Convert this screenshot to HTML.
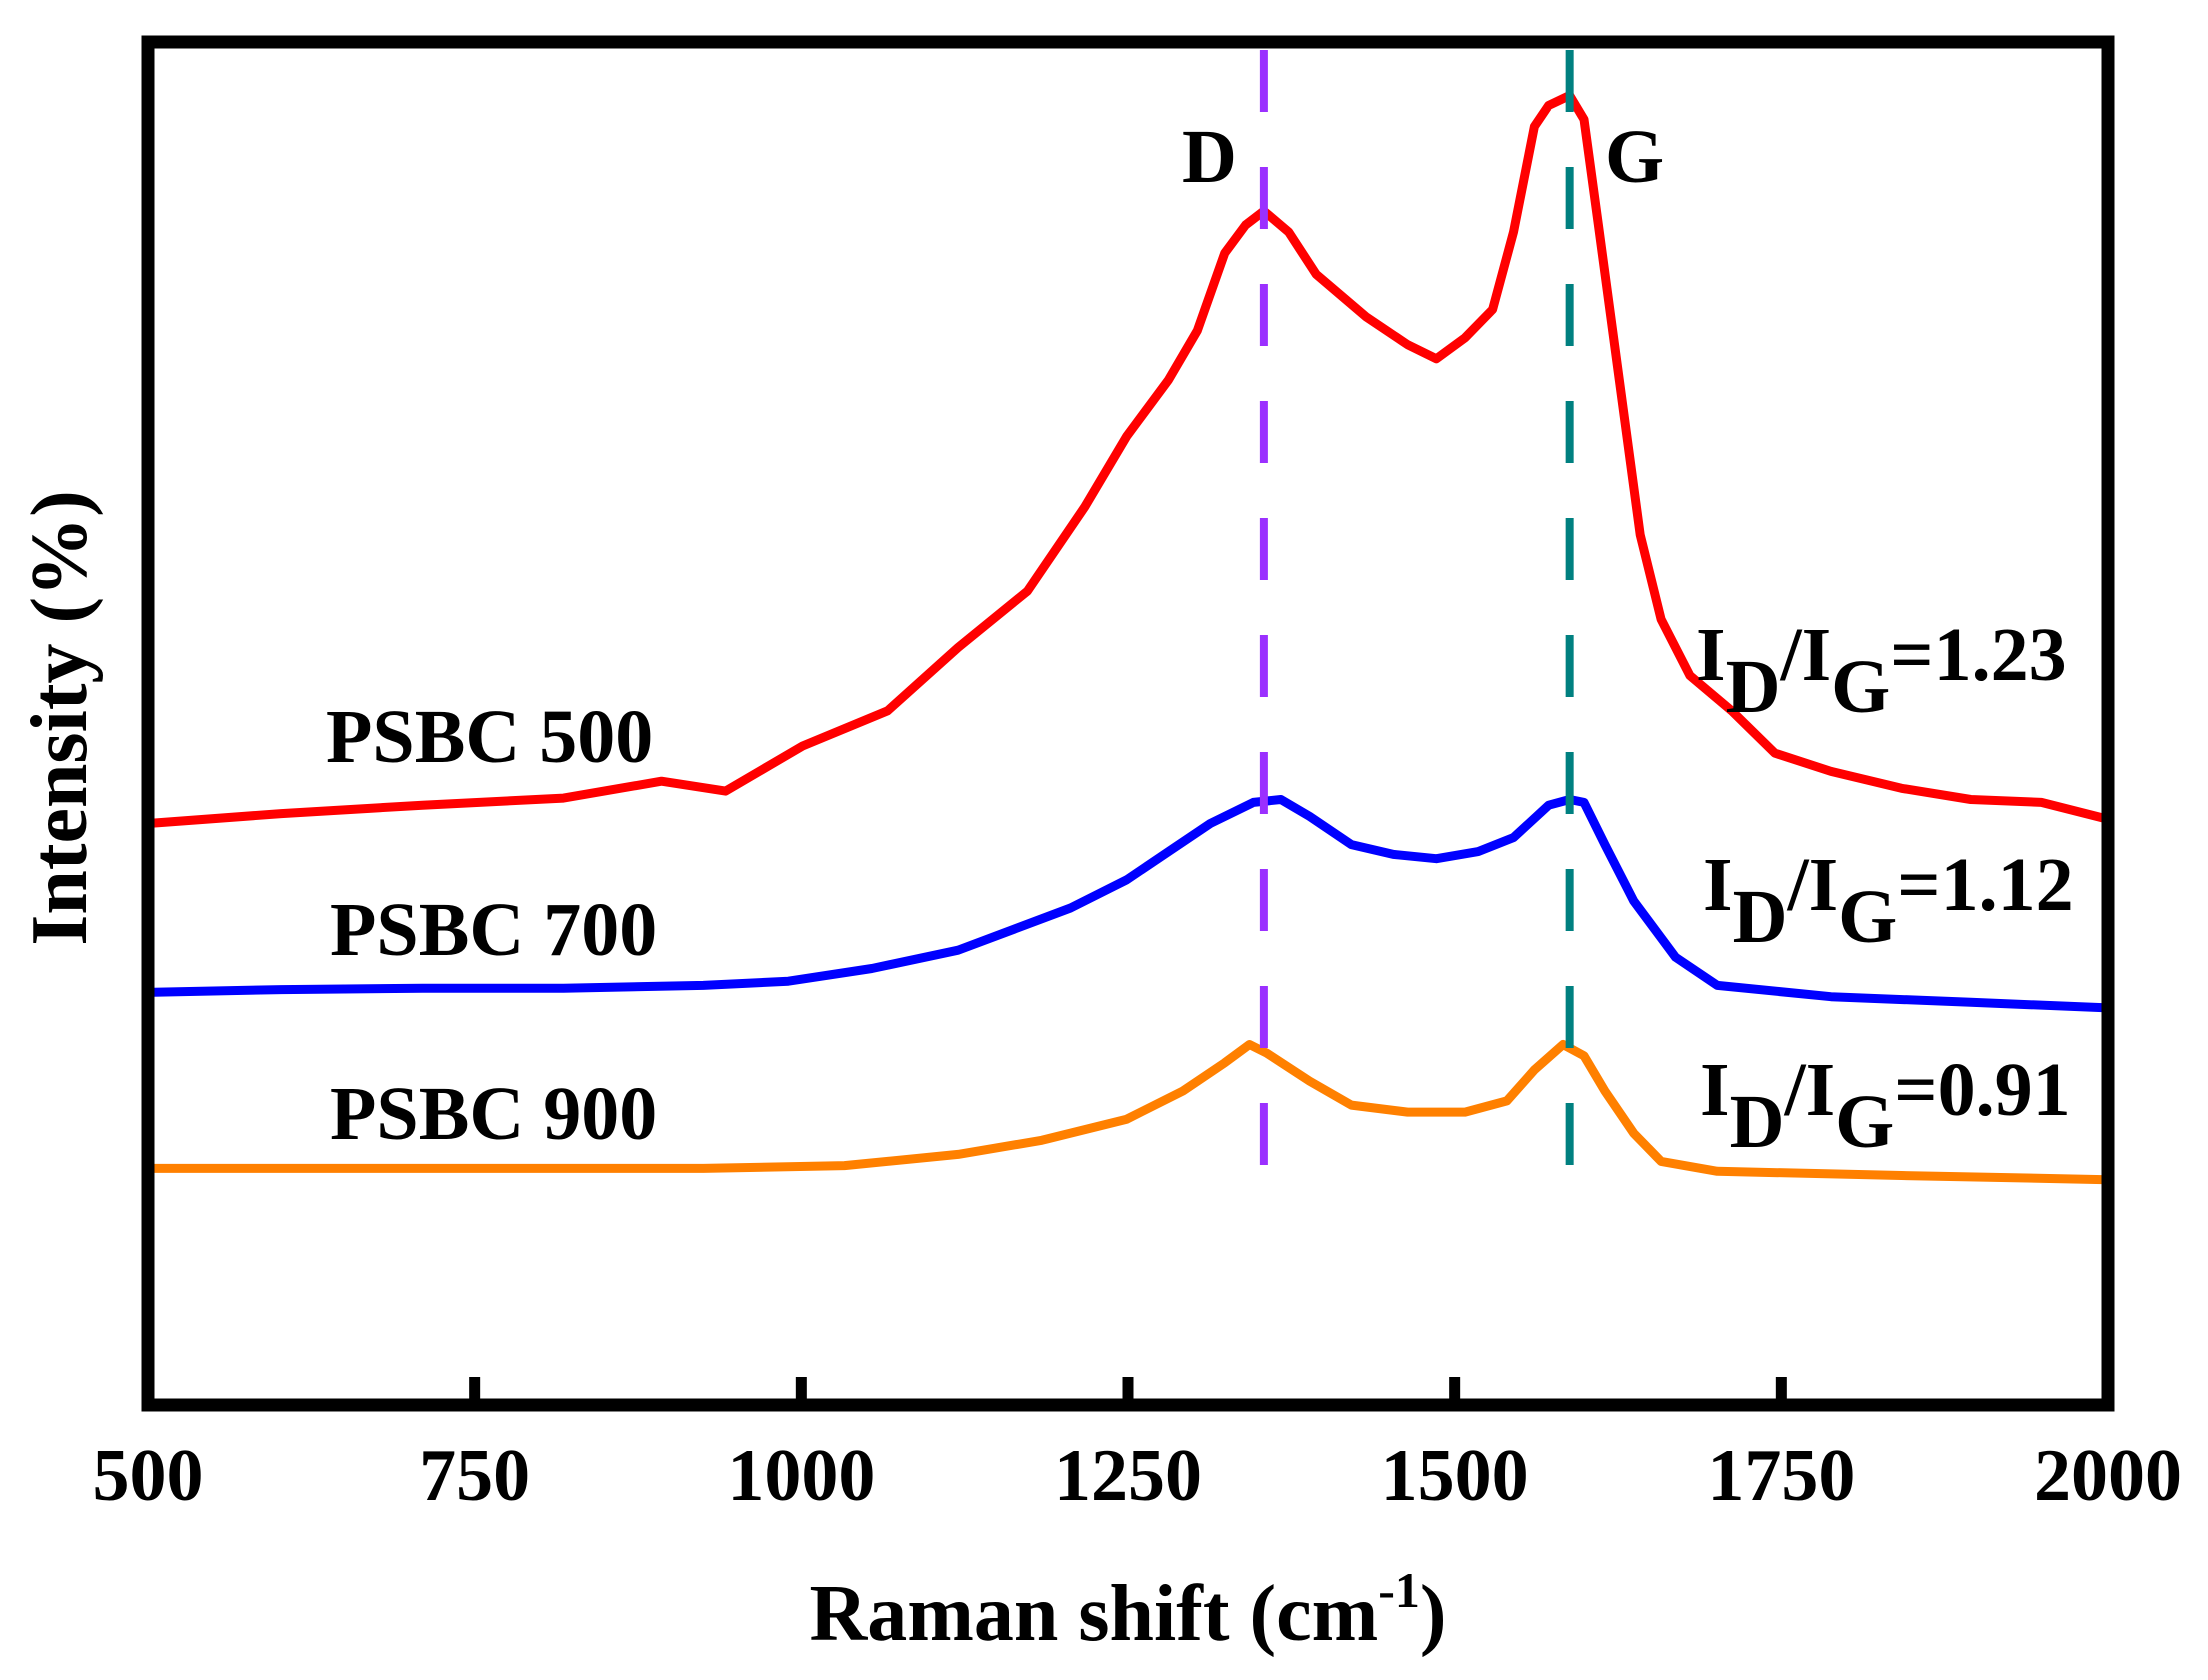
<!DOCTYPE html>
<html><head><meta charset="utf-8"><style>
html,body{margin:0;padding:0;background:#fff;}
svg{display:block;font-family:"Liberation Serif",serif;font-weight:bold;}
</style></head><body>
<svg id="chart" width="2208" height="1680" viewBox="0 0 2208 1680" xmlns="http://www.w3.org/2000/svg">
<g id="series"></g>
<g id="refs"></g>
<rect x="148" y="42" width="1960" height="1363" fill="none" stroke="#000" stroke-width="13"/>
<g id="ticks"></g>
<text x="1128" y="1640" font-size="80" text-anchor="middle">Raman shift (cm<tspan font-size="50" dy="-33">-1</tspan><tspan dy="33">)</tspan></text>
<text transform="translate(86,718) rotate(-90)" font-size="80" text-anchor="middle">Intensity (%)</text>
<text x="1182" y="182" font-size="76">D</text>
<text x="1605" y="182" font-size="76">G</text>
<text x="326" y="762" font-size="76">PSBC 500</text>
<text x="330" y="955" font-size="76">PSBC 700</text>
<text x="330" y="1139" font-size="76">PSBC 900</text>
<text x="1696" y="680" font-size="76">I<tspan dy="32">D</tspan><tspan dy="-32">/I</tspan><tspan dy="32">G</tspan><tspan dy="-32">=1.23</tspan></text>
<text x="1703" y="910" font-size="76">I<tspan dy="32">D</tspan><tspan dy="-32">/I</tspan><tspan dy="32">G</tspan><tspan dy="-32">=1.12</tspan></text>
<text x="1700" y="1115" font-size="76">I<tspan dy="32">D</tspan><tspan dy="-32">/I</tspan><tspan dy="32">G</tspan><tspan dy="-32">=0.91</tspan></text>
</svg>
<script>
const xTicks = [500, 750, 1000, 1250, 1500, 1750, 2000];
const refX = [1354, 1588];
const redX = [500,602,710,818,893,942,1001,1066,1120,1173,1217,1249,1281,1303,1324,1340,1354,1373,1394,1432,1464,1486,1508,1529,1545,1561,1572,1588,1599,1610,1626,1642,1658,1680,1712,1745,1788,1842,1895,1949,2000];
const redY = [413,420,426,431,443,436,468,493,538,578,638,688,728,763,818,838,848,833,803,773,753,743,758,778,833,908,923,930,913,838,728,618,558,518,493,463,450,438,430,428,416];
const blueX = [500,602,710,818,925,990,1054,1120,1163,1206,1249,1281,1313,1346,1367,1389,1421,1453,1486,1518,1545,1572,1588,1599,1615,1637,1669,1701,1788,1895,2000];
const blueY = [293,295,296,296,298,301,310,323,338,353,373,393,413,428,430,418,398,391,388,393,403,426,430,428,398,358,318,298,290,286,282];
const orangeX = [500,710,925,1033,1120,1184,1249,1292,1324,1343,1356,1389,1421,1464,1508,1540,1561,1583,1599,1615,1637,1658,1701,1842,2000];
const orangeY = [168,168,168,170,178,188,203,223,243,256,250,230,213,208,208,216,238,256,248,223,193,173,166,163,160];

const NS = "http://www.w3.org/2000/svg";
function sx(v){ return 148 + (v-500)*(1960/1500); }
function sy(v){ return 1405 - v*(1363/968); }

const tg = document.getElementById('ticks');
xTicks.forEach(t=>{
  if(t!==500 && t!==2000){
    const l=document.createElementNS(NS,'line');
    
    
    l.setAttribute('x1',sx(t));l.setAttribute('x2',sx(t));
    l.setAttribute('y1',1405);l.setAttribute('y2',1377);
    l.setAttribute('stroke','#000');l.setAttribute('stroke-width','11');
    tg.appendChild(l);
  }
  const tx=document.createElementNS(NS,'text');
  
  
  tx.setAttribute('x',sx(t));tx.setAttribute('y',1500);
  tx.setAttribute('font-size','74');tx.setAttribute('text-anchor','middle');
  tx.textContent=t;
  tg.appendChild(tx);
});

const rg=document.getElementById('refs');
const refColors=['#9b30ff','#008080'];
refX.forEach((v,i)=>{
  const l=document.createElementNS(NS,'line');
  
  
  l.setAttribute('x1',sx(v));l.setAttribute('x2',sx(v));
  l.setAttribute('y1',50);l.setAttribute('y2',1205);
  l.setAttribute('stroke',refColors[i]);l.setAttribute('stroke-width','8');
  l.setAttribute('stroke-dasharray','62 55');
  rg.appendChild(l);
});

const sg=document.getElementById('series');
function draw(xs,ys,color,name){
  const p=document.createElementNS(NS,'polyline');
  
  
  p.setAttribute('points',xs.map((x,i)=>sx(x).toFixed(1)+','+sy(ys[i]).toFixed(1)).join(' '));
  p.setAttribute('fill','none');p.setAttribute('stroke',color);
  p.setAttribute('stroke-width','9');p.setAttribute('stroke-linejoin','round');
  sg.appendChild(p);
}
draw(redX,redY,'#ff0000','line-psbc-500');
draw(blueX,blueY,'#0000ff','line-psbc-700');
draw(orangeX,orangeY,'#ff8000','line-psbc-900');
</script>
</body></html>
